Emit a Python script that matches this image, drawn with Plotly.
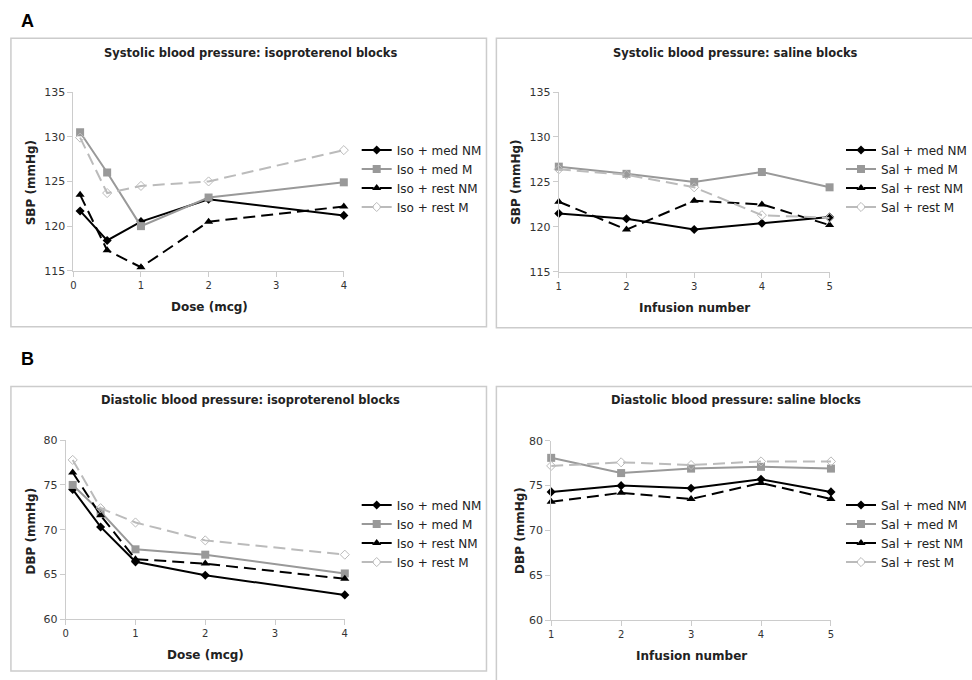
import plotly.graph_objects as go

# ---------------- data ----------------
dose = [0.1, 0.5, 1, 2, 4]
infusion = [1, 2, 3, 4, 5]

iso_names = ["Iso + med NM", "Iso + med M", "Iso + rest NM", "Iso + rest M"]
sal_names = ["Sal + med NM", "Sal + med M", "Sal + rest NM", "Sal + rest M"]

sbp_iso_med_nm = [121.7, 118.4, 120.5, 123.0, 121.2]
sbp_iso_med_m = [130.5, 126.0, 120.0, 123.2, 124.9]
sbp_iso_rest_nm = [123.5, 117.3, 115.4, 120.5, 122.2]
sbp_iso_rest_m = [129.9, 123.7, 124.5, 125.0, 128.5]

sbp_sal_med_nm = [121.5, 120.9, 119.7, 120.4, 121.1]
sbp_sal_med_m = [126.7, 125.9, 125.0, 126.1, 124.4]
sbp_sal_rest_nm = [122.8, 119.7, 122.9, 122.5, 120.2]
sbp_sal_rest_m = [126.4, 125.8, 124.4, 121.3, 121.0]

dbp_iso_med_nm = [74.5, 70.3, 66.4, 64.9, 62.7]
dbp_iso_med_m = [75.0, 72.0, 67.8, 67.2, 65.1]
dbp_iso_rest_nm = [76.4, 71.6, 66.7, 66.2, 64.5]
dbp_iso_rest_m = [77.8, 72.4, 70.8, 68.8, 67.2]

dbp_sal_med_nm = [74.3, 75.0, 74.7, 75.7, 74.3]
dbp_sal_med_m = [78.1, 76.4, 76.9, 77.1, 76.9]
dbp_sal_rest_nm = [73.2, 74.2, 73.5, 75.3, 73.5]
dbp_sal_rest_m = [77.2, 77.6, 77.3, 77.7, 77.7]

# ---------------- styles ----------------
styles = [
    dict(line=dict(color="#000000", width=2, dash="solid"),
         marker=dict(symbol="diamond", size=7, color="#000000")),
    dict(line=dict(color="#999999", width=2, dash="solid"),
         marker=dict(symbol="square", size=8, color="#999999")),
    dict(line=dict(color="#000000", width=2, dash="12px,6px"),
         marker=dict(symbol="triangle-up", size=8, color="#000000")),
    dict(line=dict(color="#bbbbbb", width=2, dash="12px,6px"),
         marker=dict(symbol="diamond-open", size=7, color="#bbbbbb",
                     line=dict(width=1, color="#bbbbbb"))),
]

W, H = 972, 680
def px(x):
    return x / W
def py(y):
    return 1 - y / H

panels = [
    (dose, [sbp_iso_med_nm, sbp_iso_med_m, sbp_iso_rest_nm, sbp_iso_rest_m], iso_names,
     "x", "y", "legend", (71, 344), (87.7, 270)),
    (infusion, [sbp_sal_med_nm, sbp_sal_med_m, sbp_sal_rest_nm, sbp_sal_rest_m], sal_names,
     "x2", "y2", "legend2", (561, 834.3), (87.7, 271)),
    (dose, [dbp_iso_med_nm, dbp_iso_med_m, dbp_iso_rest_nm, dbp_iso_rest_m], iso_names,
     "x3", "y3", "legend3", (63.3, 345), (442.7, 625)),
    (infusion, [dbp_sal_med_nm, dbp_sal_med_m, dbp_sal_rest_nm, dbp_sal_rest_m], sal_names,
     "x4", "y4", "legend4", (553.3, 835.7), (443.3, 626)),
]

fig = go.Figure()
for xs, series, names, xa, ya, lg, _, _ in panels:
    for vals, name, st in zip(series, names, styles):
        fig.add_trace(go.Scatter(
            x=xs, y=vals, name=name, mode="lines+markers",
            line=st["line"], marker=st["marker"],
            xaxis=xa, yaxis=ya, legend=lg, cliponaxis=False,
        ))

axis_common = dict(showgrid=False, zeroline=False, showline=True, linecolor="#cccccc",
                   linewidth=1, ticks="outside", tickcolor="#cccccc", ticklen=5,
                   fixedrange=True)

layout = dict(
    width=W, height=H, margin=dict(l=0, r=0, t=0, b=0),
    paper_bgcolor="white", plot_bgcolor="white",
    font=dict(family="DejaVu Sans", color="#222222"),
    showlegend=True,
)

xranges = [[0, 4], [1, 5], [0, 4], [1, 5]]
yranges = [[115, 135], [115, 135], [60, 80], [60, 80]]
leg_pos = [(357, 132), (846, 132), (357, 494), (846, 494)]

for i, (p, xr, yr, lp) in enumerate(zip(panels, xranges, yranges, leg_pos)):
    sfx = "" if i == 0 else str(i + 1)
    xd, yd = p[6], p[7]
    layout["xaxis" + sfx] = dict(axis_common, domain=[px(xd[0]), px(xd[1])], range=xr,
                                 dtick=1, tick0=0,
                                 anchor="y" + sfx, tickfont=dict(size=10, color="#333333"))
    layout["yaxis" + sfx] = dict(axis_common, domain=[py(yd[1]), py(yd[0])], range=yr,
                                 dtick=5, anchor="x" + sfx,
                                 tickfont=dict(size=11, color="#333333"))
    layout["legend" + sfx] = dict(
        x=px(lp[0]), y=py(lp[1]), xanchor="left", yanchor="top",
        bgcolor="rgba(0,0,0,0)", font=dict(size=12, color="#222222"),
        tracegroupgap=0, itemwidth=30,
    )

fig.update_layout(**layout)

# panel borders
boxes = [(8, 33, 488, 327), (498, 33, 990, 328), (8, 388, 488, 678), (498, 388, 990, 690)]
shapes = []
for x0, y0, x1, y1 in boxes:
    shapes.append(dict(type="rect", xref="paper", yref="paper",
                       x0=px(x0), x1=px(x1), y0=py(y1), y1=py(y0),
                       line=dict(color="#cccccc", width=1.5), fillcolor="rgba(0,0,0,0)",
                       layer="below"))
fig.update_layout(shapes=shapes)

titles = [
    ("Systolic blood pressure: isoproterenol blocks", 250, 48),
    ("Systolic blood pressure: saline blocks", 739, 48),
    ("Diastolic blood pressure: isoproterenol blocks", 250, 402),
    ("Diastolic blood pressure: saline blocks", 740, 402),
]
xtitles = [("Dose (mcg)", 208, 307), ("Infusion number", 698, 308),
           ("Dose (mcg)", 204, 662), ("Infusion number", 695, 663)]
ytitles = [("SBP (mmHg)", 28, 180), ("SBP (mmHg)", 517, 180),
           ("DBP (mmHg)", 28, 535), ("DBP (mmHg)", 522, 535)]

ann = []
for t, x, y in titles:
    ann.append(dict(text="<b>" + t + "</b>", x=px(x), y=py(y), xref="paper", yref="paper",
                    showarrow=False, xanchor="center", yanchor="middle",
                    font=dict(size=11.5, color="#222222")))
for t, x, y in xtitles:
    ann.append(dict(text="<b>" + t + "</b>", x=px(x), y=py(y), xref="paper", yref="paper",
                    showarrow=False, xanchor="center", yanchor="middle",
                    font=dict(size=12, color="#222222")))
for t, x, y in ytitles:
    ann.append(dict(text="<b>" + t + "</b>", x=px(x), y=py(y), xref="paper", yref="paper",
                    showarrow=False, xanchor="center", yanchor="middle", textangle=-90,
                    font=dict(size=12, color="#222222")))
for t, x, y in [("A", 25, 15), ("B", 25, 360)]:
    ann.append(dict(text="<b>" + t + "</b>", x=px(x), y=py(y), xref="paper", yref="paper",
                    showarrow=False, xanchor="center", yanchor="middle",
                    font=dict(size=18, color="#000000", family="Liberation Sans")))
fig.update_layout(annotations=ann)

fig.write_html(
    "out.html",
    config={"displayModeBar": False},
    post_script="document.body.style.margin='0';document.body.style.overflow='hidden';"
                "document.documentElement.style.overflow='hidden';",
)
